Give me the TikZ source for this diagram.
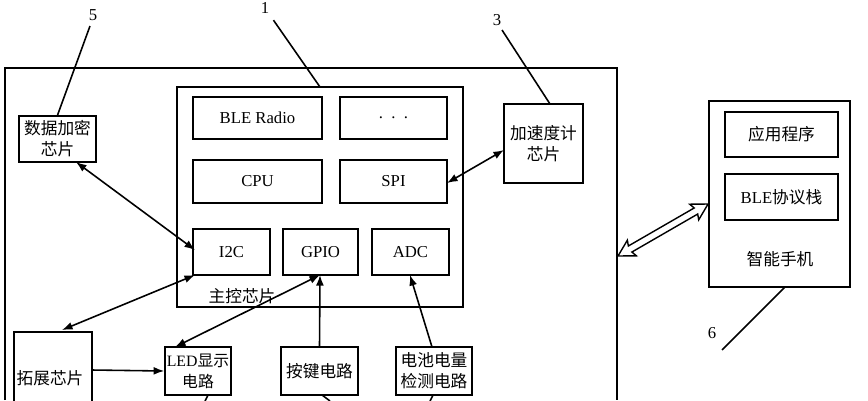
\documentclass[tikz,border=0pt]{standalone}
\usepackage{fontspec}
\setmainfont{Liberation Serif}
\newfontfamily\cjk{Noto Sans CJK SC}
\usetikzlibrary{arrows.meta}
\begin{document}
\begin{tikzpicture}[x=0.02cm,y=-0.02cm,line width=0.9pt,
  bx/.style={draw,inner sep=0pt,align=center,font=\fontsize{9.5}{11}\selectfont},
  ar/.style={{Latex[length=6pt,width=4.5pt]}-{Latex[length=6pt,width=4.5pt]}},
  ar1/.style={-{Latex[length=6pt,width=4.5pt]}}]
\useasboundingbox (0,0) rectangle (868,400);
\draw (5,400) -- (5,68) -- (617,68) -- (617,400);
\node[draw,minimum width=286*0.02cm,minimum height=220*0.02cm] (main) at (320,197) {};
\node[font=\fontsize{9.5}{11}\selectfont\cjk] (mlab) at (242,296) {主控芯片};
\node[bx,minimum width=129*0.02cm,minimum height=42*0.02cm] (ble) at (257.5,118) {BLE Radio};
\node[bx,minimum width=107*0.02cm,minimum height=42*0.02cm] (dots) at (393.5,118) {.\ \ .\ \ .};
\node[bx,minimum width=129*0.02cm,minimum height=43*0.02cm] (cpu) at (257.5,181.5) {CPU};
\node[bx,minimum width=107*0.02cm,minimum height=43*0.02cm] (spi) at (393.5,181.5) {SPI};
\node[bx,minimum width=77*0.02cm,minimum height=46*0.02cm] (i2c) at (231.5,252) {I2C};
\node[bx,minimum width=75*0.02cm,minimum height=46*0.02cm] (gpio) at (320.5,252) {GPIO};
\node[bx,minimum width=77*0.02cm,minimum height=46*0.02cm] (adc) at (410.5,252) {ADC};
\node[bx,minimum width=77*0.02cm,minimum height=46*0.02cm,font=\fontsize{9.5}{12}\selectfont\cjk] (enc) at (57.5,139) {数据加密\\芯片};
\node[bx,minimum width=79*0.02cm,minimum height=79*0.02cm,font=\fontsize{9.5}{12}\selectfont\cjk] (acc) at (543.5,143.5) {加速度计\\芯片};
\draw (14,402) -- (14,332) -- (92,332) -- (92,402);
\node[font=\fontsize{9.5}{11}\selectfont\cjk] (ext) at (50,378) {拓展芯片};
\coordinate (extr) at (92,370);
\node[bx,minimum width=66*0.02cm,minimum height=48*0.02cm,font=\fontsize{9}{12}\selectfont] (led) at (198,371) {LED{\cjk 显示}\\{\cjk 电路}};
\node[bx,minimum width=77*0.02cm,minimum height=48*0.02cm,font=\fontsize{9.5}{12}\selectfont\cjk] (key) at (319.5,371) {按键电路};
\node[bx,minimum width=76*0.02cm,minimum height=48*0.02cm,font=\fontsize{9.5}{12}\selectfont\cjk] (bat) at (434,371) {电池电量\\检测电路};
\node[draw,minimum width=141*0.02cm,minimum height=186*0.02cm] (ph) at (779.5,194) {};
\node[bx,minimum width=113*0.02cm,minimum height=45*0.02cm,font=\fontsize{9.5}{11}\selectfont\cjk] (app) at (781.5,134.5) {应用程序};
\node[bx,minimum width=113*0.02cm,minimum height=46*0.02cm,font=\fontsize{9.5}{11}\selectfont] (stk) at (781.5,197) {BLE{\cjk 协议栈}};
\node[font=\fontsize{9.5}{11}\selectfont\cjk] (phl) at (780,259) {智能手机};
\node[font=\fontsize{9.5}{11}\selectfont] (n5) at (93,15) {5};
\node[font=\fontsize{9.5}{11}\selectfont] (n1) at (265,8) {1};
\node[font=\fontsize{9.5}{11}\selectfont] (n3) at (497,20) {3};
\node[font=\fontsize{9.5}{11}\selectfont] (n6) at (712,333) {6};
\draw (90,26) -- (enc.north);
\draw (n1) -- (320,87);
\draw (502,30) -- (550,104);
\draw (722,350) -- (785,287);
\draw[ar] (76,162) -- (195,250);
\draw[ar] (447,183) -- (504,150);
\draw[ar] (62,330) -- (195,275);
\draw[ar] (320,275) -- (175,347);
\draw[ar1] (key.north) -- (320,275);
\draw[ar1] (432,347) -- (410,275);
\draw[ar1] (extr) -- (led.west);
\draw (208,395) -- (205,401);
\draw (322,395) -- (330,401);
\draw (433,395) -- (430,401);
\begin{scope}[shift={(618,256)},rotate=30,line width=0.8pt]
\draw (0,0) -- (16,-9) -- (14,-3.5) -- (90,-3.5) -- (88,-9) -- (104,0) -- (88,9) -- (90,3.5) -- (14,3.5) -- (16,9) -- cycle;
\end{scope}
\end{tikzpicture}
\end{document}
